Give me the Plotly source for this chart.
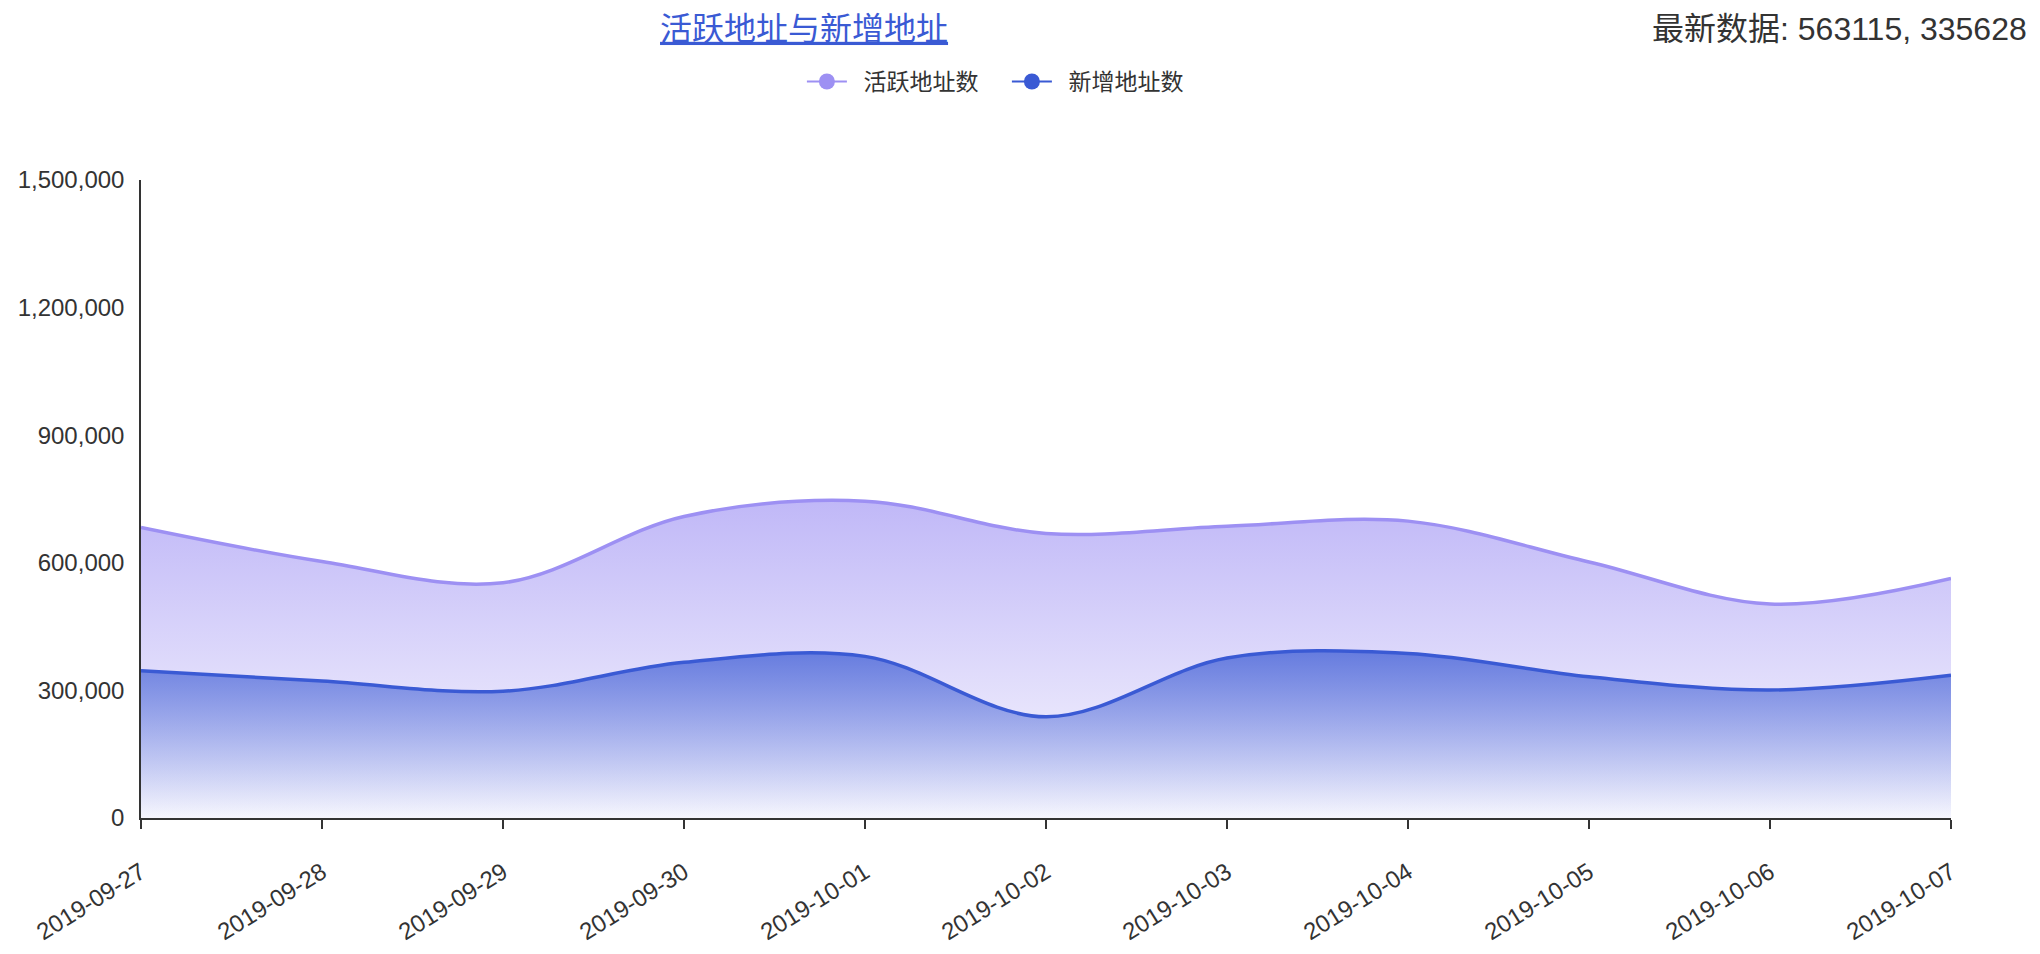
import plotly.graph_objects as go

# dates on the x axis
dates = ["2019-09-27", "2019-09-28", "2019-09-29", "2019-09-30", "2019-10-01",
         "2019-10-02", "2019-10-03", "2019-10-04", "2019-10-05", "2019-10-06",
         "2019-10-07"]

# active addresses / new addresses per day
active = [683000, 603000, 553000, 709000, 745000, 669000, 686000, 698000, 602000, 503000, 563115]
new = [346000, 322000, 298000, 366000, 380000, 238000, 376000, 387000, 332000, 301000, 335628]

yticks = [0, 300000, 600000, 900000, 1200000, 1500000]

purple = "#9d90f3"
blue = "#3a5ad4"
font = "Liberation Sans, Noto Sans CJK SC, sans-serif"

fig = go.Figure()

fig.add_trace(go.Scatter(
    x=dates, y=active, mode="lines", name="活跃地址数", showlegend=False,
    line=dict(color=purple, width=3.5, shape="spline", smoothing=1),
    fill="tozeroy",
    fillgradient=dict(type="vertical", start=0, stop=max(active),
                      colorscale=[[0, "rgba(157,144,243,0.05)"], [1, "rgba(157,144,243,0.64)"]]),
    hoverinfo="skip",
))
fig.add_trace(go.Scatter(
    x=dates, y=new, mode="lines", name="新增地址数", showlegend=False,
    line=dict(color=blue, width=3.5, shape="spline", smoothing=1),
    fill="tozeroy",
    fillgradient=dict(type="vertical", start=0, stop=max(new),
                      colorscale=[[0, "rgba(58,90,212,0.02)"], [1, "rgba(58,90,212,0.72)"]]),
    hoverinfo="skip",
))

# legend entries with a line + circle symbol
for nm, col in [("活跃地址数", purple), ("新增地址数", blue)]:
    fig.add_trace(go.Scatter(
        x=[None], y=[None], mode="lines+markers", name="\u2002" + nm,
        line=dict(color=col, width=2), marker=dict(color=col, size=20),
    ))

# page has an 8px body margin, so the figure is 16px smaller than the window
fig.update_layout(
    width=2024, height=938,
    margin=dict(l=132.5, r=80.5, t=171.5, b=128),
    paper_bgcolor="white", plot_bgcolor="white",
    font=dict(family=font, size=24, color="#333333"),
    title=dict(text="<u>活跃地址与新增地址</u>", xref="container", yref="container",
               x=0.3933, xanchor="center", y=0.978, yanchor="middle",
               font=dict(size=32, color="#3a5ad4", family=font)),
    legend=dict(orientation="h", x=0.4784, xanchor="center", y=1.1543, yanchor="middle",
                font=dict(size=23, color="#333333"), itemwidth=40,
                entrywidth=150, entrywidthmode="pixels"),
    annotations=[dict(text="最新数据: %d, %d" % (active[-1], new[-1]),
                      xref="paper", yref="paper", x=1.043, y=1.2363,
                      xanchor="right", yanchor="middle", showarrow=False,
                      font=dict(size=32, color="#333333"))],
    showlegend=True,
)

fig.update_xaxes(
    type="category", range=[0, len(dates) - 1], automargin=False,
    showline=True, linecolor="#333333", linewidth=2,
    ticks="outside", ticklen=9, tickcolor="#333333", tickwidth=1.5,
    tickangle=-32, ticklabelstandoff=20, showgrid=False, zeroline=False,
)
fig.update_yaxes(
    range=[0, 1500000], tickvals=yticks, tickformat=",", automargin=False,
    showline=True, linecolor="#333333", linewidth=1.5,
    showgrid=False, zeroline=False, ticks="", ticklabelstandoff=10,
)

fig.write_html("out.html")
